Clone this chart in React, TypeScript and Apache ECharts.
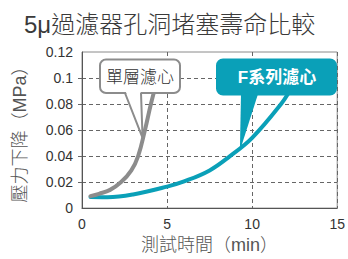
import React, { useEffect, useRef } from "react";
import * as echarts from "echarts";

const titleText = "5μ過濾器孔洞堵塞壽命比較";
const xAxisName = "測試時間（min）";
const yAxisName = "壓力下降（MPa）";
const xTickLabels = ["0", "5", "10", "15"];
const yTickLabels = ["0", "0.02", "0.04", "0.06", "0.08", "0.1", "0.12"];

const singleName = "單層濾心";
const singleX = [0.5, 1.0, 1.65, 2.3, 2.9, 3.3, 3.7, 4.05, 4.35];
const singleY = [0.0092, 0.011, 0.014, 0.02, 0.029, 0.04, 0.06, 0.08, 0.095];

const fName = "F系列濾心";
const fX = [0.5, 1.5, 3, 5, 6, 7.5, 8.7, 10, 11.7, 12.3];
const fY = [0.0085, 0.0084, 0.0105, 0.0165, 0.0205, 0.029, 0.04, 0.054, 0.08, 0.092];

const GRAY = "#8c8c8c";
const TEAL = "#0aa0b8";
const FONT = "'Liberation Sans', 'Noto Sans CJK TC', sans-serif";

export default function App() {
  const ref = useRef<HTMLDivElement>(null);
  useEffect(() => {
    document.body.style.margin = "0";
    const chart = echarts.init(ref.current!, null, { renderer: "svg" });
    const option: any = {
      animation: false,
      textStyle: { fontFamily: FONT },
      title: {
        text: titleText,
        left: 19,
        top: 7,
        textStyle: { fontSize: 24, fontWeight: 300, color: "#3a3a3a", fontFamily: FONT },
      },
      grid: {
        left: 82,
        right: 9,
        top: 52,
        bottom: 47,
        show: true,
        borderColor: "#8a8a8a",
        borderWidth: 1,
        backgroundColor: "transparent",
      },
      xAxis: {
        type: "value",
        min: 0,
        max: 15,
        interval: 5,
        name: xAxisName,
        nameLocation: "middle",
        nameGap: 26,
        nameTextStyle: { fontSize: 18, color: "#555", fontWeight: 300, fontFamily: FONT },
        axisLine: { show: true, lineStyle: { color: "#555", width: 1 } },
        axisTick: { show: false },
        axisLabel: {
          fontSize: 14,
          color: "#333",
          margin: 9,
          fontFamily: FONT,
          formatter: (v: number) => xTickLabels[Math.round(v / 5)],
        },
        splitLine: { show: true, lineStyle: { color: "#666", type: [4, 3], width: 1 } },
      },
      yAxis: {
        type: "value",
        min: 0,
        max: 0.12,
        interval: 0.02,
        name: yAxisName,
        nameLocation: "middle",
        nameGap: 53,
        nameRotate: 90,
        nameTextStyle: { fontSize: 18, color: "#555", fontWeight: 300, fontFamily: FONT },
        axisLine: { show: true, lineStyle: { color: "#555", width: 1 } },
        axisTick: {
          show: true,
          length: 6,
          customValues: [0.02, 0.04, 0.06, 0.08, 0.1],
          lineStyle: { color: "#666", type: [4, 3], width: 1 },
        },
        axisLabel: {
          fontSize: 14,
          color: "#333",
          margin: 9,
          fontFamily: FONT,
          formatter: (v: number) => yTickLabels[Math.round(v / 0.02)],
        },
        splitLine: { show: true, lineStyle: { color: "#666", type: [4, 3], width: 1 } },
      },
      series: [
        {
          name: singleName,
          type: "line",
          smooth: 0.4,
          showSymbol: false,
          lineStyle: { color: GRAY, width: 4, cap: "round" },
          data: singleX.map((x, i) => [x, singleY[i]]),
          z: 3,
        },
        {
          name: fName,
          type: "line",
          smooth: 0.4,
          showSymbol: false,
          lineStyle: { color: TEAL, width: 4, cap: "round" },
          data: fX.map((x, i) => [x, fY[i]]),
          z: 2,
        },
      ],
    };
    chart.setOption(option);

    const gApex = chart.convertToPixel({ gridIndex: 0 }, [3.56, 0.054]) as number[];
    const fApex = chart.convertToPixel({ gridIndex: 0 }, [9.28, 0.044]) as number[];

    const graphic: any[] = [
      {
        type: "rect",
        z: 100,
        shape: { x: 100, y: 59.5, width: 80, height: 33.5, r: 6 },
        style: { fill: "#fff", stroke: GRAY, lineWidth: 2 },
      },
      {
        type: "polygon",
        z: 101,
        shape: { points: [[125.5, 91], [140.5, 91], [gApex[0], gApex[1] - 2]] },
        style: { fill: "#fff", stroke: "none" },
      },
      {
        type: "polyline",
        z: 102,
        shape: { points: [[125, 93], [gApex[0], gApex[1]], [141, 93]] },
        style: { stroke: GRAY, lineWidth: 2, fill: "none", lineJoin: "miter" },
      },
      {
        type: "text",
        z: 103,
        x: 140,
        y: 77,
        style: {
          text: singleName,
          fontSize: 17,
          fontWeight: 300,
          fill: "#333",
          align: "center",
          verticalAlign: "middle",
          fontFamily: FONT,
        },
      },
      {
        type: "rect",
        z: 100,
        shape: { x: 216, y: 58.5, width: 121, height: 37, r: 7 },
        style: { fill: TEAL },
      },
      {
        type: "polygon",
        z: 101,
        shape: { points: [[241, 94], [258, 94], [fApex[0], fApex[1]]] },
        style: { fill: TEAL },
      },
      {
        type: "text",
        z: 103,
        x: 277,
        y: 77.5,
        style: {
          text: fName,
          fontSize: 17,
          fontWeight: "bold",
          fill: "#fff",
          align: "center",
          verticalAlign: "middle",
          fontFamily: FONT,
        },
      },
    ];
    chart.setOption({ graphic });

    return () => chart.dispose();
  }, []);
  return <div ref={ref} style={{ width: 348, height: 259 }} />;
}
